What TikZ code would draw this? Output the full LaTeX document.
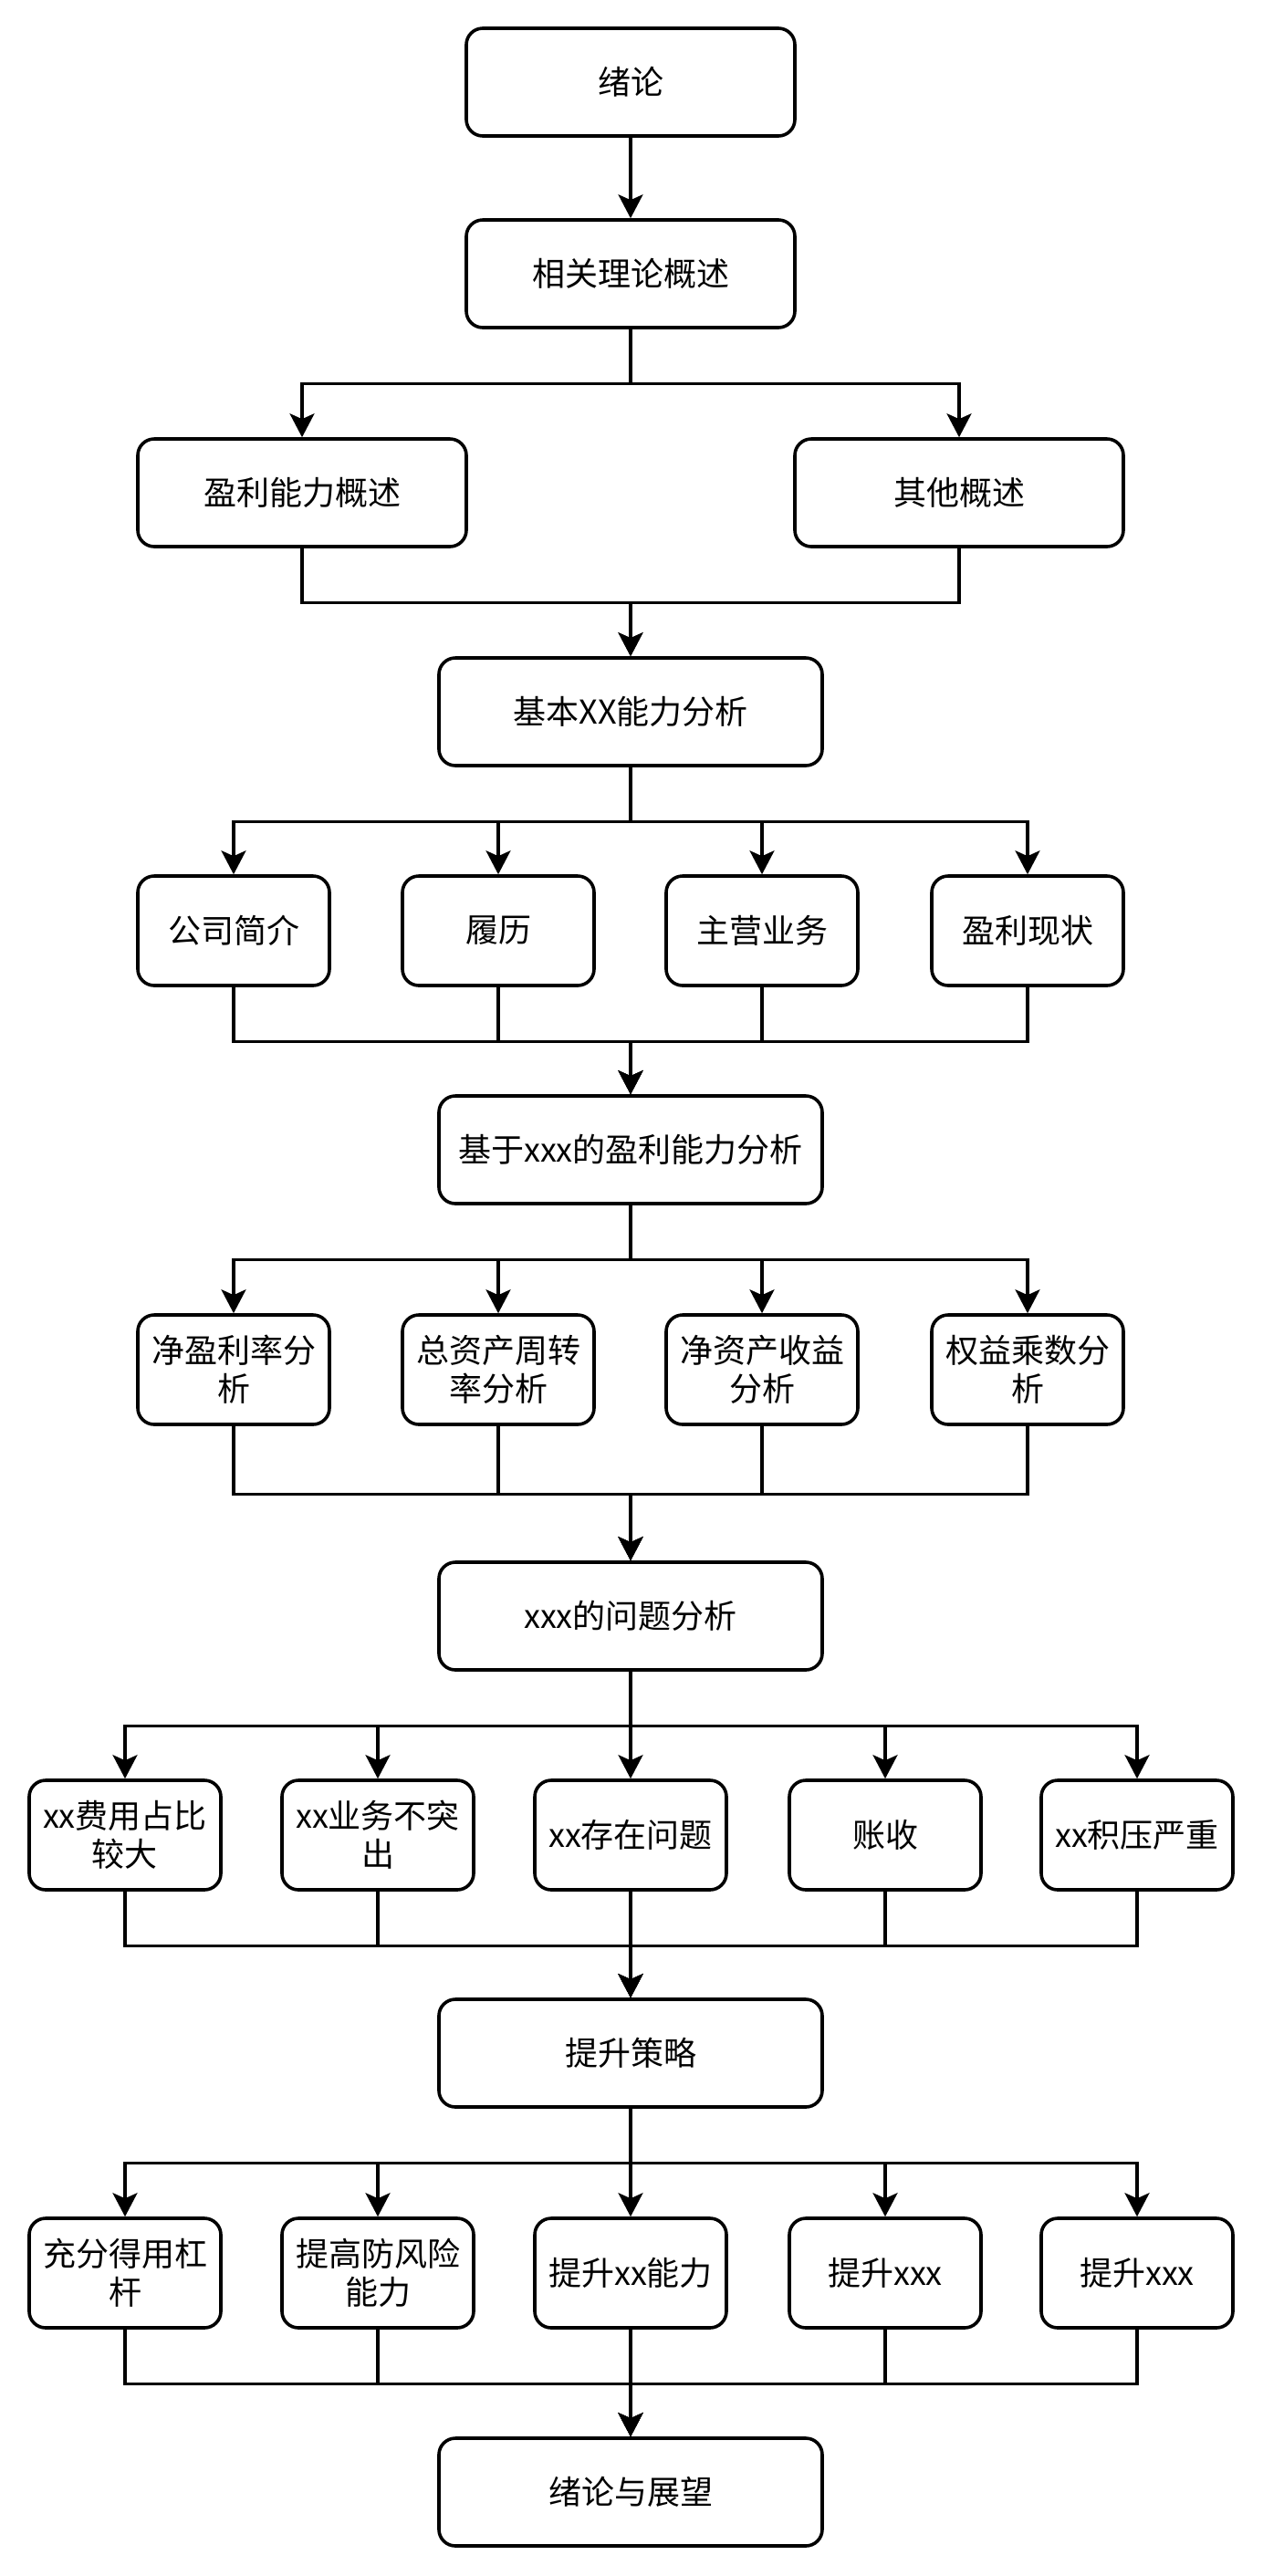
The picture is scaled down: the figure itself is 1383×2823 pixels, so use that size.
\documentclass[tikz,border=0pt]{standalone}
\usepackage{fontspec}
\setmainfont{Noto Sans CJK SC}
\usetikzlibrary{arrows.meta}

\begin{document}
\begin{tikzpicture}[x=0.5pt, y=-0.5pt, font=\fontsize{18}{21}\selectfont,
    wide/.style={draw, line width=1.8pt, rounded corners=9pt, minimum width=180pt, minimum height=59pt, align=center, inner sep=2pt},
    mid/.style={wide, minimum width=210pt},
    small/.style={wide, minimum width=105pt, minimum height=60pt},
    arr/.style={-{Stealth[length=13pt,width=13.5pt,inset=3pt]}, line width=1.6pt}]
       \useasboundingbox (0,0) rectangle (1383,2823);
       \node[wide] (a) at (691, 90) {绪论};
       \node[wide] (b) at (691, 300) {相关理论概述};
       \node[wide] (c1) at (331, 540) {盈利能力概述};
       \node[wide] (c2) at (1051, 540) {其他概述};
       \node[mid] (d) at (691, 780) {基本XX能力分析};
       \node[small] (e1) at (256, 1020) {公司简介};
       \node[small] (e2) at (546, 1020) {履历};
       \node[small] (e3) at (835, 1020) {主营业务};
       \node[small] (e4) at (1126, 1020) {盈利现状};
       \node[mid] (f) at (691, 1260) {基于xxx的盈利能力分析};
       \node[small] (g1) at (256, 1501) {净盈利率分\\析};
       \node[small] (g2) at (546, 1501) {总资产周转\\率分析};
       \node[small] (g3) at (835, 1501) {净资产收益\\分析};
       \node[small] (g4) at (1126, 1501) {权益乘数分\\析};
       \node[mid] (h) at (691, 1771) {xxx的问题分析};
       \node[small] (i1) at (137, 2011) {xx费用占比\\较大};
       \node[small] (i2) at (414, 2011) {xx业务不突\\出};
       \node[small] (i3) at (691, 2011) {xx存在问题};
       \node[small] (i4) at (970, 2011) {账收};
       \node[small] (i5) at (1246, 2011) {xx积压严重};
       \node[mid] (j) at (691, 2250) {提升策略};
       \node[small] (k1) at (137, 2491) {充分得用杠\\杆};
       \node[small] (k2) at (414, 2491) {提高防风险\\能力};
       \node[small] (k3) at (691, 2491) {提升xx能力};
       \node[small] (k4) at (970, 2491) {提升xxx};
       \node[small] (k5) at (1246, 2491) {提升xxx};
       \node[mid] (l) at (691, 2731) {绪论与展望};

       \draw[arr] (a) -- (b);
       \foreach \p in {c1,c2}{\draw[arr] (b.south) -- ++(0,-30pt) -| (\p.north);
         \draw[arr] (\p.south) -- ++(0,-30pt) -| (d.north); }
       \foreach \p in {e1,e2,e3,e4}{\draw[arr] (d.south) -- ++(0,-30pt) -| (\p.north);
         \draw[arr] (\p.south) -- ++(0,-30pt) -| (f.north); }
       \foreach \p in {g1,g2,g3,g4}{\draw[arr] (f.south) -- ++(0,-30pt) -| (\p.north);
         \draw[arr] (\p.south) -- ++(0,-37.5pt) -| (h.north); }
       \foreach \p in {i1,i2,i3,i4,i5}{\draw[arr] (h.south) -- ++(0,-30pt) -| (\p.north);
         \draw[arr] (\p.south) -- ++(0,-30pt) -| (j.north); }
       \foreach \p in {k1,k2,k3,k4,k5}{\draw[arr] (j.south) -- ++(0,-30pt) -| (\p.north);
         \draw[arr] (\p.south) -- ++(0,-30pt) -| (l.north); }
     \end{tikzpicture}
\end{document}
